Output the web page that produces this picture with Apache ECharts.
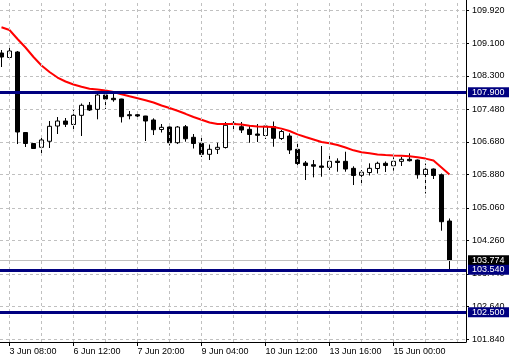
<!DOCTYPE html>
<html><head><meta charset="utf-8">
<script src="https://cdn.jsdelivr.net/npm/echarts@6/dist/echarts.min.js"></script>
<style>html,body{margin:0;padding:0;background:#fff}#c{width:509px;height:361px}</style>
</head><body><div id="c"></div>
<script>
const categories = [
  '3 Jun 04:00','3 Jun 08:00','3 Jun 12:00','3 Jun 16:00','3 Jun 20:00','5 Jun 20:00',
  '6 Jun 00:00','6 Jun 04:00','6 Jun 08:00','6 Jun 12:00','6 Jun 16:00','6 Jun 20:00',
  '7 Jun 00:00','7 Jun 04:00','7 Jun 08:00','7 Jun 12:00','7 Jun 16:00','7 Jun 20:00',
  '8 Jun 00:00','8 Jun 04:00','8 Jun 08:00','8 Jun 12:00','8 Jun 16:00','8 Jun 20:00',
  '9 Jun 00:00','9 Jun 04:00','9 Jun 08:00','9 Jun 12:00','9 Jun 16:00','9 Jun 20:00',
  '10 Jun 00:00','10 Jun 04:00','10 Jun 08:00','10 Jun 12:00','10 Jun 16:00','10 Jun 20:00',
  '12 Jun 20:00','13 Jun 00:00','13 Jun 04:00','13 Jun 08:00','13 Jun 12:00','13 Jun 16:00',
  '13 Jun 20:00','14 Jun 00:00','14 Jun 04:00','14 Jun 08:00','14 Jun 12:00','14 Jun 16:00',
  '14 Jun 20:00','15 Jun 00:00','15 Jun 04:00','15 Jun 08:00','15 Jun 12:00','15 Jun 16:00',
  '15 Jun 20:00','16 Jun 00:00','16 Jun 04:00'
];
const opens = [
  108.864,108.754,108.889,106.912,106.642,106.548,106.696,107.071,107.194,107.108,
  107.334,107.580,107.481,107.833,107.752,107.734,107.349,107.349,107.317,107.219,
  106.985,107.047,106.661,107.054,106.794,106.646,106.376,106.499,106.543,107.138,
  107.054,106.990,106.875,106.838,107.059,106.764,106.826,106.499,106.163,106.121,
  106.089,106.057,106.207,106.204,106.032,105.861,105.929,106.028,106.155,106.096,
  106.204,106.254,106.236,105.880,106.015,105.875,104.738
];
const closes = [
  108.766,108.913,106.924,106.642,106.519,106.728,107.064,107.194,107.113,107.334,
  107.580,107.464,107.833,107.734,107.717,107.300,107.324,107.317,107.194,106.980,
  107.039,106.661,107.047,106.759,106.642,106.376,106.499,106.548,107.089,107.113,
  106.973,106.863,106.843,107.071,106.769,106.936,106.482,106.150,106.101,106.084,
  106.057,106.204,106.175,106.015,105.856,105.937,106.032,106.155,106.101,106.204,
  106.254,106.219,105.875,106.008,105.856,104.721,103.774
];
const highs = [
  108.938,109.036,108.913,106.924,106.654,106.850,107.194,107.292,107.268,107.464,
  107.624,107.661,107.874,107.874,107.874,107.740,107.440,107.427,107.320,107.260,
  107.120,107.059,107.071,107.096,106.875,106.801,106.617,106.661,107.170,107.194,
  107.170,107.071,107.120,107.120,107.182,106.973,106.892,106.686,106.212,106.236,
  106.580,106.359,106.278,106.440,106.082,105.991,106.155,106.195,106.200,106.303,
  106.310,106.401,106.249,106.150,106.028,105.905,104.800
];
const lows = [
  108.520,108.741,106.629,106.556,106.507,106.359,106.531,106.875,107.047,106.998,
  106.826,107.440,107.236,107.489,107.668,107.157,107.236,107.231,106.703,106.850,
  106.912,106.592,106.629,106.686,106.519,106.310,106.236,106.384,106.519,106.931,
  106.899,106.661,106.678,106.752,106.563,106.728,106.384,106.064,105.745,105.811,
  105.826,105.991,105.949,105.949,105.622,105.647,105.856,105.905,105.942,105.974,
  106.089,106.200,105.777,105.414,105.770,104.500,103.550
];
const maValues = [
  109.495,109.429,109.208,108.999,108.766,108.557,108.397,108.262,108.164,108.090,
  108.034,107.985,107.968,107.943,107.906,107.850,107.801,107.754,107.705,107.648,
  107.575,107.513,107.445,107.371,107.292,107.226,107.157,107.120,107.120,107.120,
  107.108,107.076,107.059,107.054,107.047,107.007,106.948,106.867,106.801,106.740,
  106.678,106.649,106.605,106.543,106.474,106.425,106.401,106.371,106.359,106.349,
  106.342,106.327,106.303,106.271,106.224,106.052,105.880
];
const yTickValues = [101.84,102.64,103.44,104.26,105.06,105.88,106.68,107.48,108.30,109.10,109.92];
const xLabelIndices = [1,9,17,25,33,41,49];
const xGridIndices = [1,5,9,13,17,21,25,29,33,37,41,45,49,53,57];
const levelLines = [107.900,103.540,102.500];
const bidPrice = 103.774;

const FONT = 'Liberation Sans';
const X_MIN = -0.1875, X_MAX = 58.0625;
const Y_MIN = 101.767, Y_MAX = 110.166;
const gridLine = {color:'#c0c0c0', type:[3,3], width:1};

const chart = echarts.init(document.getElementById('c'), null, {renderer:'canvas'});
chart.setOption({
  animation:false,
  backgroundColor:'#ffffff',
  grid:{left:0, right:43, top:0, bottom:19, containLabel:false},
  xAxis:{
    type:'value', min:X_MIN, max:X_MAX, position:'bottom',
    axisLine:{show:true, onZero:false, lineStyle:{color:'#000', width:1}},
    axisTick:{show:true, length:4, customValues:xLabelIndices, lineStyle:{color:'#000'}},
    axisLabel:{show:true, customValues:xLabelIndices, align:'left', margin:5,
      fontSize:9, fontFamily:FONT, color:'#000',
      formatter:v => categories[Math.round(v)] || ''},
    splitLine:{show:false}
  },
  yAxis:{
    type:'value', position:'right', min:Y_MIN, max:Y_MAX, scale:true,
    axisLine:{show:true, onZero:false, lineStyle:{color:'#000', width:1}},
    axisTick:{show:true, length:3, customValues:yTickValues, lineStyle:{color:'#000'}},
    axisLabel:{show:true, customValues:yTickValues, margin:6, fontSize:9, fontFamily:FONT, color:'#000',
      formatter:v => Number(v).toFixed(3)},
    splitLine:{show:true, lineStyle:gridLine}
  },
  series:[{
    type:'line', z:1, data:[],
    markLine:{
      silent:true, symbol:['none','none'], animation:false,
      lineStyle:gridLine, label:{show:false},
      data:xGridIndices.map(v => ({xAxis:v}))
    }
  },{
    type:'candlestick', z:2,
    barWidth:4,
    dimensions:['idx','open','close','lowest','highest'],
    encode:{x:0, y:[1,2,3,4]},
    itemStyle:{color:'#ffffff', color0:'#000000', borderColor:'#000000', borderColor0:'#000000', borderWidth:1},
    data:categories.map((c,i)=>[i, opens[i], closes[i], lows[i], highs[i]])
  },{
    type:'line', z:3,
    showSymbol:false, symbol:'none',
    lineStyle:{color:'#ff0000', width:2},
    data:maValues.map((v,i)=>[i,v])
  },{
    type:'line', z:1, data:[],
    markLine:{
      silent:true, symbol:['none','none'], animation:false, precision:3,
      lineStyle:{color:'#c0c0c0', width:1, type:'solid'},
      label:{show:true, position:'end', distance:2, backgroundColor:'#000000', color:'#ffffff',
        padding:[1,6,0,4], fontSize:9, fontFamily:FONT, formatter:() => bidPrice.toFixed(3)},
      data:[{yAxis:bidPrice}]
    }
  },{
    type:'line', z:5, data:[],
    markLine:{
      silent:true, symbol:['none','none'], animation:false, precision:3,
      lineStyle:{color:'#000080', width:3, type:'solid'},
      label:{show:true, position:'end', distance:2, backgroundColor:'#000080', color:'#ffffff',
        padding:[1,6,0,4], fontSize:9, fontFamily:FONT, formatter:p => Number(p.data.yAxis).toFixed(3)},
      data:levelLines.map(v => ({yAxis:v}))
    }
  }]
});
</script></body></html>
